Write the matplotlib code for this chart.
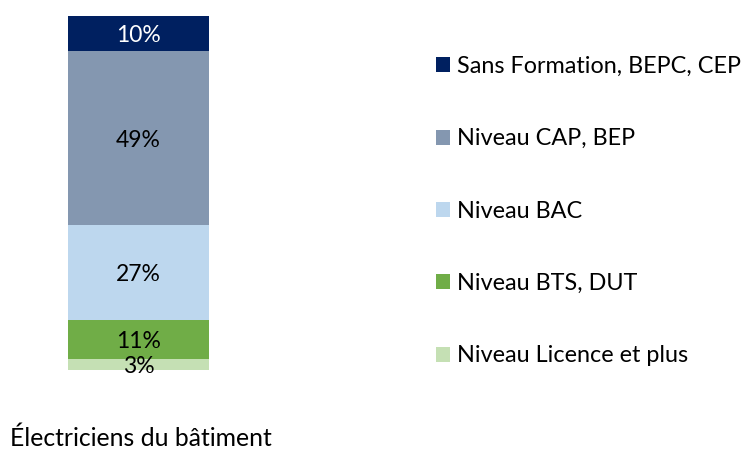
import matplotlib.pyplot as plt
from matplotlib.patches import Patch

# Data
categories = ['Sans Formation, BEPC, CEP', 'Niveau CAP, BEP', 'Niveau BAC',
              'Niveau BTS, DUT', 'Niveau Licence et plus']
values = [10, 49, 27, 11, 3]
colors = ['#002060', '#8497b0', '#bdd7ee', '#70ad47', '#c5e0b4']
text_colors = ['white', 'black', 'black', 'black', 'black']
group_label = 'Électriciens du bâtiment'

plt.rcParams['font.family'] = ['Lato', 'DejaVu Sans']

fig = plt.figure(figsize=(7.5, 4.53), dpi=100)
ax = fig.add_axes([68 / 750, (453 - 370) / 453, 141 / 750, 354 / 453])

# stack from bottom (last category) to top (first category)
bottom = 0
for cat, val, col, tc in reversed(list(zip(categories, values, colors, text_colors))):
    ax.bar(0, val, bottom=bottom, width=1.0, color=col, edgecolor='none')
    ax.text(0, bottom + val / 2, f'{val}%', ha='center', va='center_baseline',
            fontsize=16.5, color=tc)
    bottom += val

ax.set_xlim(-0.5, 0.5)
ax.set_ylim(0, sum(values))
ax.axis('off')

handles = [Patch(facecolor=c, edgecolor='none') for c in colors]
leg = fig.legend(handles, categories, loc='upper left', frameon=False, fontsize=16.8,
                 labelspacing=2.2, handlelength=0.62, handleheight=0.62,
                 handletextpad=0.3, borderaxespad=0, borderpad=0)
leg.set_bbox_to_anchor((436 / 750, 1 - 56 / 453), transform=fig.transFigure)

fig.text(10 / 750, 1 - 438 / 453, group_label, ha='left', va='center', fontsize=17.8)

fig.savefig('out.png', dpi=100)
